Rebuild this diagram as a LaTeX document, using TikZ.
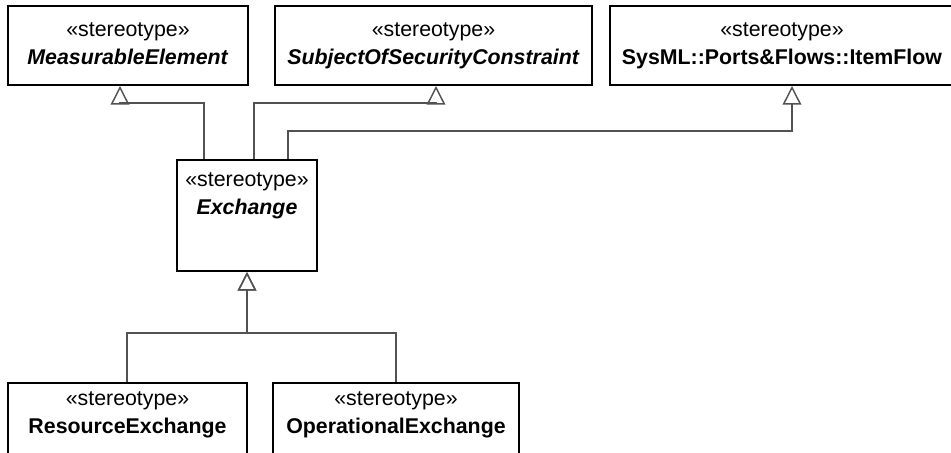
\documentclass[tikz,border=0pt]{standalone}
\usepackage{fontspec}
\setmainfont{Liberation Sans}
\usetikzlibrary{arrows.meta,fit,positioning}
\tikzset{
  umlbox/.style={draw=black,line width=1.5pt,inner sep=0pt},
  stereo/.style={align=center,inner sep=0pt,font=\fontsize{16}{21}\selectfont},
  gen/.style={draw=black!68,line width=1.1pt,-{Triangle[open,length=14pt,width=14pt]}},
}
\newcommand{\stype}{«stereotype»}
\begin{document}
\begin{tikzpicture}[x=0.75pt,y=-0.75pt]
\useasboundingbox (0,0) rectangle (951,453);
\node[umlbox,fit={(8,6) (248,85)}] (meas) {};
\node[umlbox,fit={(275,6) (592,85)}] (subj) {};
\node[umlbox,fit={(610,6) (954,85)}] (item) {};
\node[umlbox,fit={(177,160) (317,271)}] (exch) {};
\node[umlbox,fit={(8,383) (247,457)}] (res) {};
\node[umlbox,fit={(273,383) (519,457)}] (oper) {};
\node[stereo,below=13pt of meas.north] (measlbl) {\stype\\\textbf{\textit{MeasurableElement}}};
\node[stereo,below=13pt of subj.north] (subjlbl) {\stype\\\textbf{\textit{SubjectOfSecurityConstraint}}};
\node[stereo,below=13pt of item.north] (itemlbl) {\stype\\\textbf{SysML::Ports\&Flows::ItemFlow}};
\node[stereo,below=10pt of exch.north] (exchlbl) {\stype\\\textbf{\textit{Exchange}}};
\node[stereo,below=7pt of res.north] (reslbl) {\stype\\\textbf{ResourceExchange}};
\node[stereo,below=7pt of oper.north] (operlbl) {\stype\\\textbf{OperationalExchange}};
\draw[gen] (exch.north -| 204,0) -- ++(0,-56) -| (meas.south -| 120,0);
\draw[gen] (exch.north -| 254,0) -- ++(0,-56) -| (subj.south -| 436,0);
\draw[gen] (exch.north -| 288,0) -- ++(0,-28) -| (item.south -| 792,0);
\draw[gen] (res.north -| 127,0) -- ++(0,-49) -| (exch.south);
\draw[gen] (oper.north -| 396,0) -- ++(0,-49) -| (exch.south);
\end{tikzpicture}
\end{document}
